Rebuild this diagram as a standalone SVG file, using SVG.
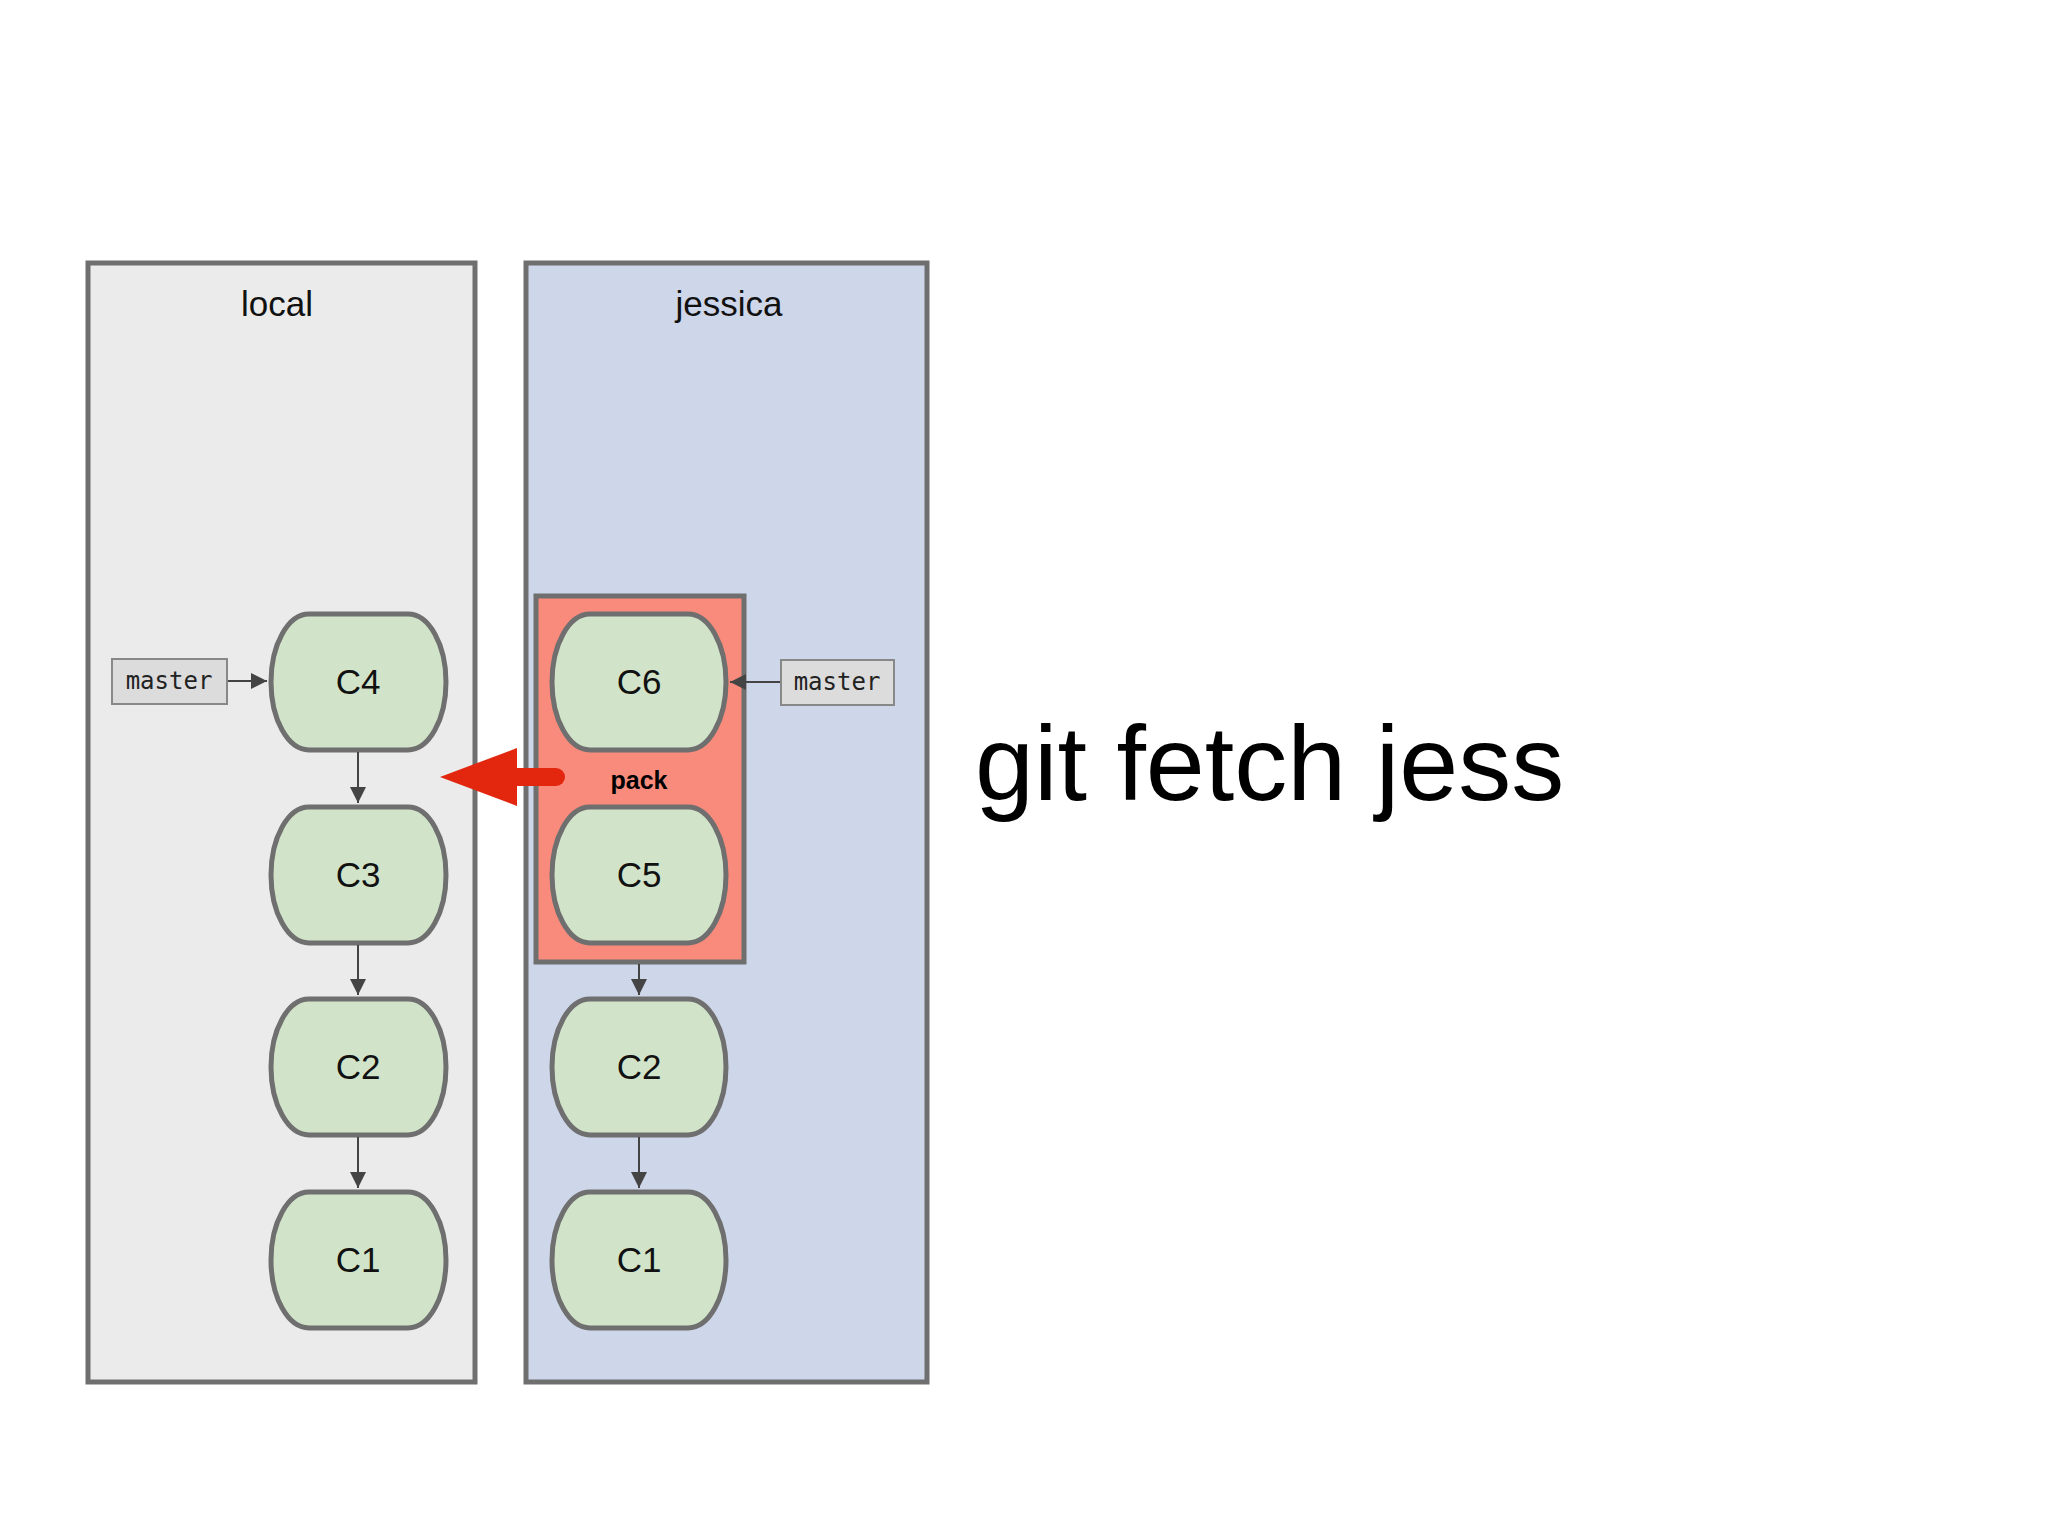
<svg xmlns="http://www.w3.org/2000/svg" width="2048" height="1536" viewBox="0 0 2048 1536">
<style>
.box{stroke:#6f6f6f;stroke-width:5}
.n{fill:#d1e4c9;stroke:#6f6f6f;stroke-width:5}
.t{font-family:"Liberation Sans",Arial,sans-serif;font-size:35px;fill:#111;text-anchor:middle}
.m{fill:#dcdcdc;stroke:#888;stroke-width:2}
.mt{font-family:"DejaVu Sans Mono","Liberation Mono",monospace;font-size:24px;fill:#222;text-anchor:middle}
.c{stroke:#444;stroke-width:2;fill:none;marker-end:url(#a)}
</style>
<defs>
<marker id="a" viewBox="0 0 10 10" refX="10" refY="5" markerWidth="8" markerHeight="8" markerUnits="userSpaceOnUse" orient="auto"><path d="M0,0L10,5L0,10z" fill="#444"/></marker>
<marker id="b" viewBox="0 0 10 10" refX="10" refY="5" markerWidth="16" markerHeight="16" markerUnits="userSpaceOnUse" orient="auto"><path d="M0,0L10,5L0,10z" fill="#444"/></marker>
</defs>
<rect width="2048" height="1536" fill="#fff"/>
<g id="local"><rect class="box" x="88" y="263" width="387" height="1119" fill="#ebebeb"/><text class="t" x="277" y="316">local</text></g>
<g id="jessica"><rect class="box" x="526" y="263" width="401" height="1119" fill="#ced6ea"/><text class="t" x="729" y="316">jessica</text></g>
<g id="pack"><rect class="box" x="536" y="596" width="208" height="366" fill="#f88b7b"/><text x="639" y="789" style="font-family:'Liberation Sans',Arial,sans-serif;font-size:25px;font-weight:bold;text-anchor:middle">pack</text></g>
<g id="L_C4"><rect class="n" x="271" y="614" width="175" height="136" rx="38" ry="68"/><text class="t" x="358" y="694">C4</text></g>
<g id="L_C3"><rect class="n" x="271" y="807" width="175" height="136" rx="38" ry="68"/><text class="t" x="358" y="887">C3</text></g>
<g id="L_C2"><rect class="n" x="271" y="999" width="175" height="136" rx="38" ry="68"/><text class="t" x="358" y="1079">C2</text></g>
<g id="L_C1"><rect class="n" x="271" y="1192" width="175" height="136" rx="38" ry="68"/><text class="t" x="358" y="1272">C1</text></g>
<g id="J_C6"><rect class="n" x="552" y="614" width="174" height="136" rx="38" ry="68"/><text class="t" x="639" y="694">C6</text></g>
<g id="J_C5"><rect class="n" x="552" y="807" width="174" height="136" rx="38" ry="68"/><text class="t" x="639" y="887">C5</text></g>
<g id="J_C2"><rect class="n" x="552" y="999" width="174" height="136" rx="38" ry="68"/><text class="t" x="639" y="1079">C2</text></g>
<g id="J_C1"><rect class="n" x="552" y="1192" width="174" height="136" rx="38" ry="68"/><text class="t" x="639" y="1272">C1</text></g>
<g id="L_master"><rect class="m" x="112" y="659" width="115" height="45"/><text class="mt" x="169" y="689">master</text></g>
<g id="J_master"><rect class="m" x="781" y="660" width="113" height="45"/><text class="mt" x="837" y="690">master</text></g>
<g id="connectors">
<line class="c" x1="228" y1="681" x2="267" y2="681" style="marker-end:url(#b)"/>
<line class="c" x1="780" y1="682" x2="730" y2="682" style="marker-end:url(#b)"/>
<line class="c" x1="358" y1="752" x2="358" y2="803" style="marker-end:url(#b)"/>
<line class="c" x1="358" y1="945" x2="358" y2="995" style="marker-end:url(#b)"/>
<line class="c" x1="358" y1="1137" x2="358" y2="1188" style="marker-end:url(#b)"/>
<line class="c" x1="639" y1="964" x2="639" y2="995" style="marker-end:url(#b)"/>
<line class="c" x1="639" y1="1137" x2="639" y2="1188" style="marker-end:url(#b)"/>
<g id="fetch_arrow"><line x1="556" y1="777" x2="505" y2="777" stroke="#e3260e" stroke-width="18" stroke-linecap="round"/><path d="M440,777L517,748L517,806z" fill="#e3260e"/></g>
</g>
<text x="975" y="800" style="font-family:'Liberation Sans',Arial,sans-serif;font-size:106px;fill:#000">git fetch jess</text>
</svg>
